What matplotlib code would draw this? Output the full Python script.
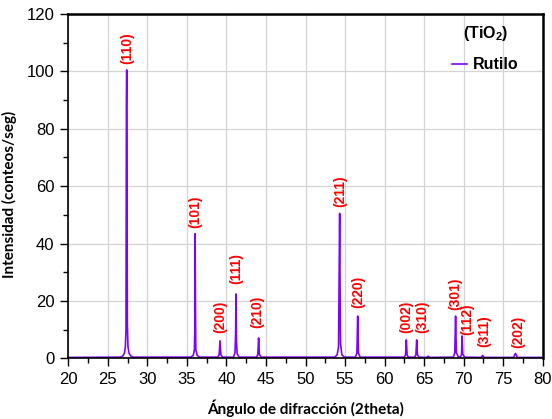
import matplotlib
matplotlib.use('Agg')
import matplotlib.pyplot as plt
from matplotlib.lines import Line2D

plt.rcParams['font.family'] = 'Liberation Sans'
plt.rcParams['mathtext.fontset'] = 'custom'
plt.rcParams['mathtext.rm'] = 'Liberation Sans'
plt.rcParams['mathtext.bf'] = 'Liberation Sans:bold'

# XRD pattern vertices (2theta, counts/s)
two_theta = [20.0, 26.6, 26.9, 27.1, 27.22, 27.30, 27.35, 27.39, 27.43, 27.47, 27.55, 27.68, 27.9, 28.2,
             35.5, 35.8, 35.95, 36.0, 36.04, 36.08, 36.13, 36.3, 36.6,
             38.9, 39.08, 39.19, 39.3, 39.5,
             40.9, 41.08, 41.16, 41.21, 41.27, 41.36, 41.6,
             43.8, 43.97, 44.07, 44.17, 44.4,
             53.7, 54.0, 54.18, 54.26, 54.32, 54.37, 54.43, 54.6, 54.9,
             56.3, 56.5, 56.6, 56.7, 56.9,
             62.5, 62.65, 62.75, 62.85, 63.0,
             63.8, 63.96, 64.06, 64.16, 64.35,
             65.3, 65.5, 65.7,
             68.7, 68.88, 68.98, 69.08, 69.3, 69.6, 69.73, 69.8, 69.88, 70.1,
             72.2, 72.4, 72.6,
             76.3, 76.55, 76.8,
             80.0]
intensity = [0.3, 0.4, 0.8, 1.8, 4.0, 10.0, 88.0, 100.5, 65.0, 12.0, 4.0, 1.8, 0.8, 0.4,
             0.4, 1.0, 3.0, 10.0, 43.4, 20.0, 3.0, 1.0, 0.4,
             0.4, 1.2, 6.1, 1.2, 0.4,
             0.4, 2.0, 8.0, 22.4, 6.0, 1.5, 0.4,
             0.4, 1.3, 7.1, 1.3, 0.4,
             0.4, 1.2, 4.0, 30.8, 50.5, 25.0, 5.0, 1.2, 0.4,
             0.4, 1.8, 14.7, 1.8, 0.4,
             0.4, 1.2, 6.4, 1.2, 0.4,
             0.4, 1.2, 6.4, 1.2, 0.4,
             0.3, 0.7, 0.3,
             0.4, 2.0, 14.7, 2.0, 0.6, 0.5, 1.2, 7.8, 1.5, 0.4,
             0.3, 1.0, 0.3,
             0.3, 1.7, 0.3,
             0.3]

# Miller indices and where their labels sit
hkl = ['(110)', '(101)', '(200)', '(111)', '(210)', '(211)', '(220)',
       '(002)', '(310)', '(301)', '(112)', '(311)', '(202)']
label_x = [27.45, 36.0, 39.2, 41.3, 43.9, 54.35, 56.65, 62.75, 64.8, 69.0, 70.4, 72.6, 76.85]
label_y = [102.5, 45.5, 8.8, 25.8, 10.4, 52.9, 17.4, 8.8, 8.8, 16.8, 8.0, 4.0, 3.5]

fig = plt.figure(figsize=(5.52, 4.19), dpi=100)
ax = fig.add_axes([0.1237, 0.1449, 0.8595, 0.8217])

ax.plot(two_theta, intensity, color='#8000FF', lw=1.2)

for lab, x, y in zip(hkl, label_x, label_y):
    ax.text(x, y, lab, rotation=90, ha='center', va='bottom', color='red',
            fontsize=10, fontweight='bold')

ax.set_xlim(20, 80)
ax.set_ylim(0, 120)
ax.set_xticks(range(20, 81, 5))
ax.set_yticks(range(0, 121, 20))
ax.set_xticks([x + 2.5 for x in range(20, 80, 5)], minor=True)
ax.set_yticks(range(10, 120, 20), minor=True)
ax.tick_params(which='major', direction='out', length=6, width=1, labelsize=12, pad=4)
ax.tick_params(which='minor', direction='out', length=3.5, width=1)
ax.tick_params(top=False, right=False)
ax.grid(True, which='major', color='#d4d4d4', lw=0.9)
ax.set_axisbelow(True)
for side in ['left', 'bottom']:
    ax.spines[side].set_linewidth(1.2)
for side in ['top', 'right']:
    ax.spines[side].set_linewidth(1.8)

ax.set_xlabel('Ángulo de difracción (2theta)', fontsize=11, fontweight='bold',
              family='Lato', labelpad=9)
ax.set_ylabel('Intensidad (conteos/seg)', fontsize=11, fontweight='bold', family='Lato')
ax.yaxis.set_label_coords(-0.108, 0.477)

handle = Line2D([], [], color='#8000FF', lw=1.2)
leg = ax.legend([handle], ['Rutilo'], title=r'(TiO$_\mathbf{2}$)', loc='upper right',
                bbox_to_anchor=(0.963, 0.99), frameon=False, borderaxespad=0,
                handlelength=0.9, handletextpad=0.4, labelspacing=0.9,
                prop={'weight': 'bold', 'size': 11.5},
                title_fontproperties={'weight': 'bold', 'size': 11.5})

fig.savefig('out.png', dpi=100)
